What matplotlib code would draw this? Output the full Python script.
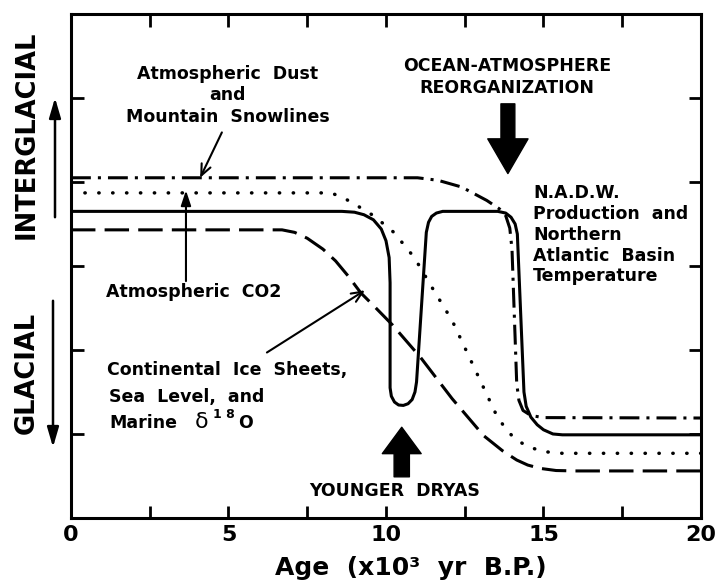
import matplotlib
matplotlib.use("Agg")
import matplotlib.pyplot as plt
from matplotlib.patches import FancyArrowPatch

plt.rcParams['font.family'] = ['DejaVu Sans']
plt.rcParams['font.weight'] = 'bold'

# age in 10^3 yr B.P. ; response on a 0 (glacial) .. 6 (interglacial) scale
dust_age = [0, 11.0, 11.65, 12.4, 13.2, 13.6, 13.8, 13.93, 14.0, 14.15, 14.22, 14.35, 14.6, 15.0, 20]
dust_val = [4.05, 4.05, 4.02, 3.94, 3.78, 3.68, 3.6, 3.45, 3.2, 1.6, 1.4, 1.28, 1.22, 1.195, 1.19]

co2_age = [0, 8.25, 8.6, 8.9, 9.6, 10.25, 10.9, 11.5, 12.1, 12.6, 13.1, 13.5, 13.8, 14.1, 14.5,
           15.0, 15.6, 20]
co2_val = [3.87, 3.87, 3.82, 3.76, 3.6, 3.4, 3.1, 2.72, 2.35, 1.95, 1.55, 1.23, 1.06, 0.94, 0.85,
           0.79, 0.77, 0.77]

nadw_age = [0, 8.6, 9.0, 9.3, 9.6, 9.85, 10.0, 10.1, 10.13, 10.13, 10.17, 10.27, 10.4, 10.55,
            10.7, 10.83, 10.92, 10.97, 11.28, 11.35, 11.45, 11.6, 11.8, 13.55, 13.8, 13.97,
            14.1, 14.17, 14.38, 14.45, 14.6, 14.8, 15.0, 15.3, 15.6, 20]
nadw_val = [3.65, 3.65, 3.64, 3.61, 3.55, 3.44, 3.3, 3.1, 2.8, 1.55, 1.45, 1.38, 1.345, 1.34,
            1.36, 1.41, 1.5, 1.62, 3.4, 3.52, 3.59, 3.63, 3.65, 3.65, 3.63, 3.58,
            3.5, 3.38, 1.5, 1.33, 1.2, 1.11, 1.05, 1.0, 0.99, 0.99]

ice_age = [0, 6.7, 7.1, 7.5, 8.0, 8.4, 8.8, 9.2, 9.6, 10.2, 11.1, 12.1, 13.1, 13.7, 14.15, 14.5,
           14.9, 15.4, 16.0, 20]
ice_val = [3.43, 3.43, 3.4, 3.33, 3.2, 3.06, 2.88, 2.68, 2.53, 2.3, 1.91, 1.42, 0.98, 0.8, 0.69,
           0.63, 0.59, 0.565, 0.56, 0.56]

x_ticks = [0, 5, 10, 15, 20]
x_minor = [2.5, 7.5, 12.5, 17.5]
y_ticks = [1, 2, 3, 4, 5]

fig = plt.figure(figsize=(7.2, 5.82), dpi=100)
ax = fig.add_axes([0.0986, 0.110, 0.875, 0.866])

lw = 2.2
ax.plot(dust_age, dust_val, color='black', lw=lw, linestyle=(0, (6.5, 2.3, 1, 2.3)))
ax.plot(co2_age, co2_val, color='black', lw=lw + 0.3, linestyle=(0, (0.1, 3.9)),
        dash_capstyle='round')
ax.plot(nadw_age, nadw_val, color='black', lw=lw, solid_joinstyle='round')
ax.plot(ice_age, ice_val, color='black', lw=lw, linestyle=(0, (8, 3)))

ax.set_xlim(0, 20)
ax.set_ylim(0, 6)
ax.set_xticks(x_ticks)
ax.set_xticks(x_minor, minor=True)
ax.set_yticks(y_ticks)
ax.set_yticklabels([])
ax.tick_params(which='both', direction='in', length=9, width=2, top=True, right=True,
               labelsize=16, pad=5)
for sp in ax.spines.values():
    sp.set_linewidth(2.2)

fs = 12.5
thin = dict(arrowstyle='->,head_length=0.8,head_width=0.35', mutation_scale=10,
            lw=1.5, color='black', shrinkA=0, shrinkB=0)

ax.text(4.98, 5.03, "Atmospheric  Dust\nand\nMountain  Snowlines", ha='center', va='center',
        fontsize=fs, linespacing=1.25)
ax.annotate('', xy=(4.10, 4.05), xytext=(4.79, 4.59), arrowprops=thin)

ax.text(3.9, 2.69, "Atmospheric  CO2", ha='center', va='center', fontsize=fs)
ax.annotate('', xy=(3.65, 3.90), xytext=(3.65, 2.82),
            arrowprops=dict(arrowstyle='-|>,head_length=0.9,head_width=0.3', mutation_scale=10,
                            lw=1.5, color='black', shrinkA=0, shrinkB=0))

ax.text(1.14, 1.76, "Continental  Ice  Sheets,", ha='left', va='center', fontsize=fs)
ax.text(1.22, 1.44, "Sea  Level,  and", ha='left', va='center', fontsize=fs)
ax.text(1.22, 1.13, "Marine", ha='left', va='center', fontsize=fs)
ax.text(4.16, 1.14, "δ", ha='center', va='center', fontsize=16, fontweight='normal')
ax.text(4.5, 1.23, "1 8", ha='left', va='center', fontsize=9)
ax.text(5.3, 1.13, "O", ha='left', va='center', fontsize=fs)
ax.annotate('', xy=(9.33, 2.71), xytext=(6.22, 1.97), arrowprops=thin)

ax.text(13.84, 5.245, "OCEAN-ATMOSPHERE\nREORGANIZATION", ha='center', va='center',
        fontsize=fs, linespacing=1.3)
ax.annotate('', xy=(13.87, 4.10), xytext=(13.87, 4.93),
            arrowprops=dict(arrowstyle='simple,head_length=2.5,head_width=2.9,tail_width=1.0',
                            mutation_scale=10, color='black', shrinkA=0, shrinkB=0))

ax.text(14.67, 3.37, "N.A.D.W.\nProduction  and\nNorthern\nAtlantic  Basin\nTemperature",
        ha='left', va='center', fontsize=fs, linespacing=1.2)

ax.text(10.29, 0.32, "YOUNGER  DRYAS", ha='center', va='center', fontsize=fs)
ax.annotate('', xy=(10.5, 1.08), xytext=(10.5, 0.49),
            arrowprops=dict(arrowstyle='simple,head_length=1.9,head_width=2.8,tail_width=1.1',
                            mutation_scale=10, color='black', shrinkA=0, shrinkB=0))

# side labels
fig.text(0.0375, 0.768, "INTERGLACIAL", rotation=90, ha='center', va='center', fontsize=18.5)
fig.text(0.0375, 0.359, "GLACIAL", rotation=90, ha='center', va='center', fontsize=18.5)
fig.add_artist(FancyArrowPatch(
    (55 / 720, 1 - 220 / 582), (55 / 720, 1 - 95 / 582), transform=fig.transFigure,
    arrowstyle='-|>,head_length=1.2,head_width=0.35', mutation_scale=10, lw=1.8, color='black'))
fig.add_artist(FancyArrowPatch(
    (53 / 720, 1 - 298 / 582), (53 / 720, 1 - 450 / 582), transform=fig.transFigure,
    arrowstyle='-|>,head_length=1.2,head_width=0.35', mutation_scale=10, lw=1.8, color='black'))

fig.text(411 / 720, 1 - 568 / 582, "Age  (x10³  yr  B.P.)", ha='center', va='center', fontsize=18)

fig.savefig("out.png", dpi=100)
